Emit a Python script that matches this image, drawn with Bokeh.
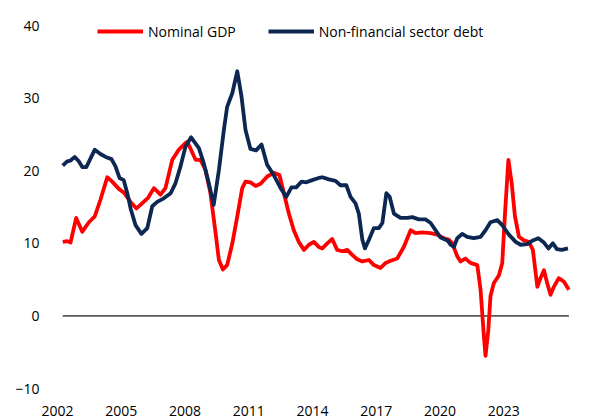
import math
from bokeh.plotting import figure
from bokeh.models import Range1d, FixedTicker, Legend, LegendItem, Label
from bokeh.embed import file_html
from bokeh.resources import INLINE

# ---- data ----
gdp_years = [2002.01, 2002.20, 2002.34, 2002.58, 2002.84, 2003.12, 2003.37, 2003.61, 2003.90,
             2004.11, 2004.39, 2004.60, 2004.89, 2005.14, 2005.41, 2005.64, 2005.88, 2006.16,
             2006.37, 2006.66, 2006.94, 2007.22, 2007.30, 2007.65, 2007.86, 2008.07, 2008.28,
             2008.50, 2008.64, 2008.81, 2008.99, 2009.21, 2009.42, 2009.63, 2009.77, 2009.98,
             2010.20, 2010.41, 2010.69, 2010.97, 2011.21, 2011.40, 2011.61, 2011.82, 2012.03,
             2012.25, 2012.46, 2012.67, 2012.88, 2013.03, 2013.24, 2013.45, 2013.66, 2013.88,
             2014.09, 2014.30, 2014.51, 2014.73, 2015.01, 2015.22, 2015.50, 2015.72, 2015.93,
             2016.21, 2016.49, 2016.78, 2016.99, 2017.27, 2017.63, 2017.91, 2018.19, 2018.40,
             2018.55, 2018.76, 2018.90, 2019.11, 2019.32, 2019.61, 2019.75, 2019.89, 2019.96,
             2020.08, 2020.17, 2020.31, 2020.53, 2020.67, 2020.78, 2020.93, 2021.07, 2021.21,
             2021.38, 2021.59, 2021.80, 2021.97, 2022.16, 2022.27, 2022.44, 2022.58, 2022.72,
             2022.86, 2023.07, 2023.29, 2023.50]
gdp_values = [10.2, 10.3, 10.1, 13.5, 11.6, 12.9, 13.7, 16.0, 19.1,
              18.5, 17.5, 17.0, 15.7, 14.8, 15.6, 16.3, 17.6, 16.7,
              17.6, 21.5, 22.9, 23.8, 24.0, 21.5, 21.5, 20.1, 16.9,
              11.4, 7.7, 6.4, 7.0, 10.0, 13.7, 17.6, 18.5, 18.4,
              17.9, 18.2, 19.2, 19.7, 19.4, 16.9, 14.1, 11.8, 10.2,
              9.1, 9.8, 10.2, 9.5, 9.3, 10.0, 10.6, 9.1, 8.9,
              9.1, 8.4, 7.8, 7.5, 7.7, 7.0, 6.6, 7.3, 7.6,
              7.9, 9.5, 11.8, 11.4, 11.5, 11.4, 11.2, 10.7, 10.5,
              10.0, 8.2, 7.5, 7.9, 7.3, 7.0, 3.6, -2.8, -5.5,
              -1.9, 2.7, 4.5, 5.6, 7.3, 13.7, 21.5, 18.3, 13.7,
              10.9, 10.4, 10.2, 9.1, 4.0, 5.0, 6.3, 4.5, 2.9,
              4.0, 5.2, 4.7, 3.6]

debt_years = [2002.01, 2002.20, 2002.34, 2002.52, 2002.69, 2002.84, 2003.01, 2003.19, 2003.37,
              2003.61, 2003.83, 2004.08, 2004.25, 2004.42, 2004.60, 2004.75, 2004.89, 2005.10,
              2005.35, 2005.60, 2005.81, 2006.02, 2006.30, 2006.59, 2006.80, 2007.01, 2007.22,
              2007.46, 2007.79, 2008.00, 2008.21, 2008.42, 2008.64, 2008.85, 2008.99, 2009.21,
              2009.42, 2009.60, 2009.77, 2009.98, 2010.22, 2010.45, 2010.69, 2010.97, 2011.26,
              2011.50, 2011.72, 2011.92, 2012.15, 2012.35, 2012.60, 2012.88, 2013.03, 2013.31,
              2013.59, 2013.80, 2014.05, 2014.23, 2014.44, 2014.58, 2014.73, 2014.84, 2015.01,
              2015.22, 2015.43, 2015.58, 2015.75, 2015.89, 2016.07, 2016.35, 2016.64, 2016.85,
              2017.13, 2017.41, 2017.63, 2017.84, 2018.05, 2018.34, 2018.48, 2018.62, 2018.76,
              2018.97, 2019.18, 2019.46, 2019.75, 2019.96, 2020.17, 2020.46, 2020.67, 2020.95,
              2021.24, 2021.45, 2021.73, 2021.97, 2022.20, 2022.44, 2022.63, 2022.82, 2022.99,
              2023.20, 2023.46]
debt_values = [20.7, 21.3, 21.4, 21.9, 21.3, 20.5, 20.5, 21.7, 22.9,
               22.3, 21.9, 21.6, 20.6, 19.0, 18.7, 16.9, 14.8, 12.5,
               11.3, 12.1, 15.1, 15.7, 16.2, 16.9, 18.3, 20.6, 23.3,
               24.6, 23.1, 21.0, 18.3, 15.3, 20.1, 25.6, 28.8, 30.7,
               33.7, 30.2, 25.6, 23.0, 22.8, 23.6, 20.8, 19.4, 17.6,
               16.4, 17.7, 17.7, 18.5, 18.4, 18.7, 19.0, 19.1, 18.8,
               18.6, 18.0, 18.0, 16.4, 15.5, 14.1, 10.5, 9.3, 10.5,
               12.1, 12.1, 12.8, 16.9, 16.4, 14.1, 13.5, 13.5, 13.6,
               13.3, 13.3, 12.8, 11.8, 10.8, 10.4, 9.8, 9.5, 10.7,
               11.3, 10.9, 10.7, 10.9, 11.8, 12.9, 13.2, 12.5, 11.2,
               10.2, 9.8, 9.9, 10.4, 10.7, 10.1, 9.3, 10.0, 9.2,
               9.1, 9.3]

x_tick_labels = ["2002", "2005", "2008", "2011", "2014", "2017", "2020", "2023"]
y_ticks = [-10, 0, 10, 20, 30, 40]
series_names = ["Nominal GDP", "Non-financial sector debt"]

# ---- layout / style ----
RED = "#ff0000"
NAVY = "#0b2752"
FONT = "Open Sans"
tick_first = 2001.79
tick_step = 2.706
x_ticks = [round(tick_first + i * tick_step, 3) for i in range(len(x_tick_labels))]

p = figure(width=589, height=419, output_backend="svg", toolbar_location=None,
           x_range=Range1d(2001.49, 2023.78), y_range=Range1d(-10, 41.38),
           min_border_left=50, min_border_right=14, min_border_top=15, min_border_bottom=31)
p.outline_line_color = None
p.grid.visible = False
p.background_fill_color = "white"
p.border_fill_color = "white"

for ax in (p.xaxis[0], p.yaxis[0]):
    ax.axis_line_color = None
    ax.major_tick_line_color = None
    ax.minor_tick_line_color = None
    ax.major_label_text_font = FONT
    ax.major_label_text_font_size = "14px"
    ax.major_label_text_color = "#000000"

p.xaxis.ticker = FixedTicker(ticks=x_ticks)
p.xaxis.major_label_overrides = {t: lab for t, lab in zip(x_ticks, x_tick_labels)}
p.xaxis.major_label_standoff = 11
p.yaxis.ticker = FixedTicker(ticks=y_ticks)
p.yaxis.major_label_standoff = 5

# zero line over the span of the data
p.line([gdp_years[0], gdp_years[-1]], [0, 0], line_color="#595959", line_width=1.6)

r1 = p.line(gdp_years, gdp_values, line_color=RED, line_width=3.8, line_join="round")
r2 = p.line(debt_years, debt_values, line_color=NAVY, line_width=3.8, line_join="round")

legend = Legend(items=[LegendItem(label=series_names[0], renderers=[r1]),
                       LegendItem(label=series_names[1], renderers=[r2])],
                orientation="horizontal", location=(47, 347),
                glyph_width=46, glyph_height=20, label_height=20, label_standoff=5, spacing=32,
                padding=0, margin=0, border_line_color=None, background_fill_alpha=0,
                label_text_font=FONT, label_text_font_size="14px", label_text_color="#000000")
p.add_layout(legend)

ylab = Label(x=-32, y=155, x_units="screen", y_units="screen", text="Percent y/y",
             angle=math.pi / 2, text_align="center", text_baseline="middle",
             text_font=FONT, text_font_size="15px", text_color="#000000")
p.add_layout(ylab)

open("out.html", "w").write(file_html(p, INLINE))
